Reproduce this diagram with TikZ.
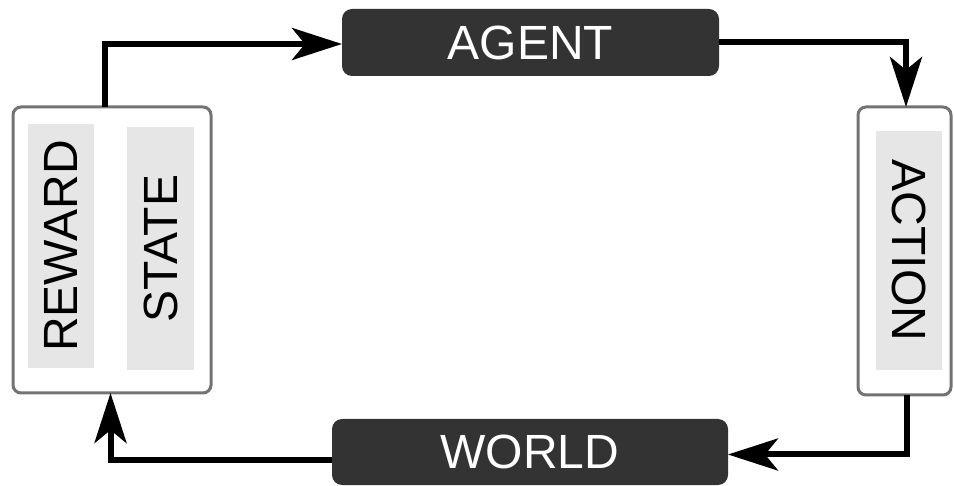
\documentclass[tikz,border=0pt]{standalone}
\usepackage{fontspec}
\setmainfont{Liberation Sans}
\usetikzlibrary{arrows.meta}
\definecolor{darkbox}{HTML}{333333}
\definecolor{framegray}{HTML}{737373}
\definecolor{lightfill}{HTML}{E6E6E6}
\tikzset{
  darknode/.style={draw=none, fill=darkbox, rounded corners=10pt, text=white,
    inner sep=0pt, outer sep=0pt, font=\fontsize{48}{48}\selectfont},
  framebox/.style={draw=framegray, line width=3pt, fill=white, rounded corners=8pt,
    inner sep=0pt, outer sep=0pt},
  labelbox/.style={draw=none, fill=lightfill, inner sep=0pt, outer sep=0pt,
    text=black, font=\fontsize{48}{48}\selectfont},
  flow/.style={line width=6pt, draw=black,
    -{Stealth[length=50pt,width=32pt,inset=13pt]}}
}
\begin{document}
\begin{tikzpicture}[x=1pt,y=-1pt]
\useasboundingbox (0,0) rectangle (954,486);
% boxes
\node[darknode, minimum width=377pt, minimum height=67pt] (agent) at (530.5,42.5) {AGENT};
\node[darknode, minimum width=396pt, minimum height=66pt] (world) at (530,452) {WORLD};
\node[framebox, minimum width=198pt, minimum height=286pt] (lbox) at (112,250) {};
\node[framebox, minimum width=93pt, minimum height=288pt] (rbox) at (904.5,251) {};
\node[labelbox, rotate=90, minimum width=244pt, minimum height=66pt] (reward) at (61,246) {REWARD};
\node[labelbox, rotate=90, minimum width=243pt, minimum height=67pt] (state) at (160.5,248.5) {STATE};
\node[labelbox, rotate=-90, minimum width=239pt, minimum height=66pt] (action) at (909,250.5) {ACTION};
% connectors
\draw[flow] ([xshift=-7.5pt]lbox.north) |- ([yshift=-1.5pt]agent.west);
\draw[flow] (agent.east) -| ([xshift=1.5pt]rbox.north);
\draw[flow] ([xshift=2.5pt]rbox.south) |- ([yshift=-2.5pt]world.east);
\draw[flow] ([yshift=-8pt]world.west) -| ([xshift=-1.5pt]lbox.south);
\end{tikzpicture}
\end{document}
